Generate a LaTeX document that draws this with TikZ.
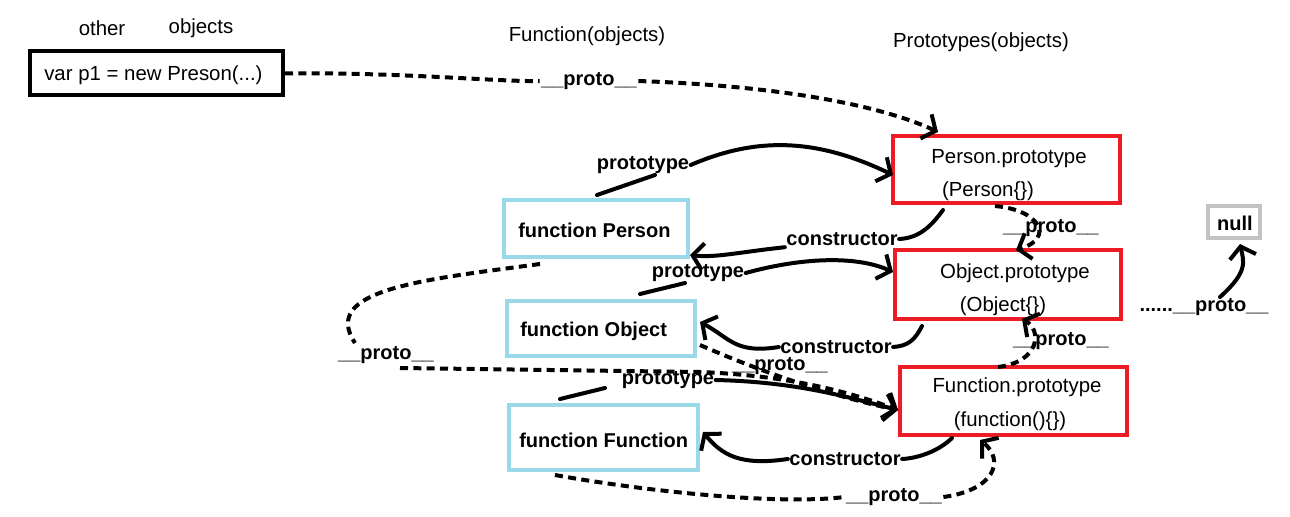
\documentclass[tikz,border=0pt]{standalone}
\usepackage{fontspec}
\setmainfont{Liberation Sans}
\usetikzlibrary{arrows.meta}
\definecolor{redbox}{RGB}{237,28,36}
\definecolor{bluebox}{RGB}{153,217,234}
\definecolor{graybox}{RGB}{195,195,195}
\begin{document}
\begin{tikzpicture}[x=0.75pt,y=-0.75pt,
  txt/.style={font=\fontsize{15.3}{18}\selectfont, inner sep=0pt},
  lbl/.style={font=\bfseries\fontsize{15}{18}\selectfont, inner sep=1pt},
  pbox/.style={draw=redbox, line width=3pt, inner sep=0pt},
  fbox/.style={draw=bluebox, line width=3pt, inner sep=0pt},
  obox/.style={draw=black, line width=3pt, inner sep=0pt},
  nbox/.style={draw=graybox, line width=2.5pt, inner sep=0pt},
  seg/.style={line width=3pt, line cap=round},
  conn/.style={seg, -{Straight Barb[length=8pt,width=20pt]}},
  dseg/.style={seg, line cap=butt, dash pattern=on 6pt off 4pt},
  dconn/.style={dseg, -{Straight Barb[length=8pt,width=20pt]}}]
\useasboundingbox (0,0) rectangle (1290,517);

% titles
\node[txt] (t1) at (102,28) {other};
\node[txt] (t2) at (201,28) {objects};
\node[txt] (t3) at (587,36) {Function(objects)};
\node[txt] (t4) at (981,42) {Prototypes(objects)};

% boxes
\node[obox, minimum width=189.75pt, minimum height=33pt] (var) at (156.5,73.5) {};
\node[txt, anchor=west] (vart) at (44,75) {var p1 = new Preson(...)};

\node[pbox, minimum width=170.25pt, minimum height=50.25pt] (PP) at (1006.5,169.5) {};
\node[txt] (PPa) at (1009,159) {Person.prototype};
\node[txt] (PPb) at (988,191) {(Person\{\})};

\node[pbox, minimum width=169.5pt, minimum height=51.75pt] (OP) at (1008,284.5) {};
\node[txt] (OPa) at (1015,273) {Object.prototype};
\node[txt] (OPb) at (1003,306) {(Object\{\})};

\node[pbox, minimum width=170.25pt, minimum height=51pt] (FP) at (1013.5,401) {};
\node[txt] (FPa) at (1017,387) {Function.prototype};
\node[txt] (FPb) at (1010,421) {(function()\{\})};

\node[fbox, minimum width=138pt, minimum height=42.75pt] (fP) at (596,228.5) {};
\node[lbl, anchor=west, inner sep=0pt] (fPt) at (518,230) {function Person};
\node[fbox, minimum width=141pt, minimum height=41.25pt] (fO) at (601,328.5) {};
\node[lbl, anchor=west, inner sep=0pt] (fOt) at (520,331) {function Object};
\node[fbox, minimum width=141.75pt, minimum height=48.75pt] (fF) at (603.5,437.5) {};
\node[lbl, anchor=west, inner sep=0pt] (fFt) at (519,440) {function Function};

\node[nbox, minimum width=39pt, minimum height=24pt] (null) at (1234,222) {};
\node[lbl] (nullt) at (1235,223) {null};

% labels
\node[lbl] (lpr1) at (589,81) {\_\_proto\_\_};
\node[lbl] (lpt1) at (643,165) {prototype};
\node[lbl] (lc1) at (842,239) {constructor};
\node[lbl] (lpr2) at (1051,228) {\_\_proto\_\_};
\node[lbl] (lpt2) at (698,273) {prototype};
\node[lbl] (lc2) at (836,347) {constructor};
\node[lbl] (lpr3) at (1061,341) {\_\_proto\_\_};
\node[lbl] (lpr4) at (1204,307) {......\_\_proto\_\_};
\node[lbl] (lpr5) at (386,355) {\_\_proto\_\_};
\node[lbl] (lpr6) at (780,366) {\_\_proto\_\_};
\node[lbl] (lpt3) at (668,380) {prototype};
\node[lbl] (lc3) at (845,459) {constructor};
\node[lbl] (lpr7) at (894,497) {\_\_proto\_\_};

% coordinates for ends
\coordinate (a1) at (938,132);
\coordinate (a2) at (893,175);
\coordinate (a3) at (690,255);
\coordinate (a4) at (1016,250);
\coordinate (a5) at (893,272);
\coordinate (a6) at (700,322);
\coordinate (a7) at (1240,244);
\coordinate (a8) at (1022,319);
\coordinate (a9) at (898,410);
\coordinate (a10) at (703,432);
\coordinate (a11) at (980,440);

% 1: var -> Person.prototype (__proto__)
\draw[dseg] (var.east) .. controls (400,72) and (500,82) .. (lpr1.west);
\draw[dconn] (lpr1.east) .. controls (780,86) and (880,105) .. (a1);

% 2: function Person prototype
\draw[seg] (597,195) -- (655,175);
\draw[conn] (lpt1.east) .. controls (760,135) and (820,140) .. (a2);

% 3: constructor Person
\draw[seg] (943,210) .. controls (930,228) and (918,238) .. (lc1.east);
\draw[conn] (lc1.south west) .. controls (740,252) and (715,258) .. (a3);

% 4: Person.prototype -> Object.prototype (__proto__)
\draw[dconn] (995,206) .. controls (1040,210) and (1055,238) .. (a4);

% 5: function Object prototype
\draw[seg] (640,294) -- (685,283);
\draw[conn] (lpt2.east) .. controls (800,258) and (855,255) .. (a5);

% 6: constructor Object
\draw[seg] (922,326) .. controls (915,340) and (908,346) .. (lc2.east);
\draw[conn] (lc2.west) .. controls (735,354) and (730,338) .. (a6);

% 7: ...__proto__ -> null
\draw[conn] (1220,297) .. controls (1248,272) and (1244,262) .. (a7);

% 8: Function.prototype -> Object.prototype (__proto__)
\draw[dconn] (998,367) .. controls (1040,362) and (1042,330) .. (a8);

% 9: function Person -> Function.prototype (__proto__) around the left
\draw[dseg] (540,264) .. controls (420,280) and (320,290) .. (355,343);
\draw[dconn] (400,368) -- (700,372) .. controls (800,376) and (860,396) .. (a9);

% 10: function Object -> Function.prototype (__proto__)
\draw[dconn] (700,345) .. controls (780,380) and (850,400) .. (a9);

% 11: function Function prototype
\draw[seg] (560,399) -- (605,388);
\draw[conn] (lpt3.east) .. controls (800,382) and (850,398) .. (a9);

% 12: constructor Function
\draw[seg] (952,438) .. controls (940,450) and (920,458) .. (lc3.east);
\draw[conn] (lc3.west) .. controls (740,466) and (722,455) .. (a10);

% 13: function Function -> Function.prototype (__proto__)
\draw[dseg] (555,475) .. controls (650,492) and (780,505) .. (lpr7.west);
\draw[dconn] (lpr7.east) .. controls (995,490) and (1005,460) .. (a11);
\end{tikzpicture}
\end{document}
